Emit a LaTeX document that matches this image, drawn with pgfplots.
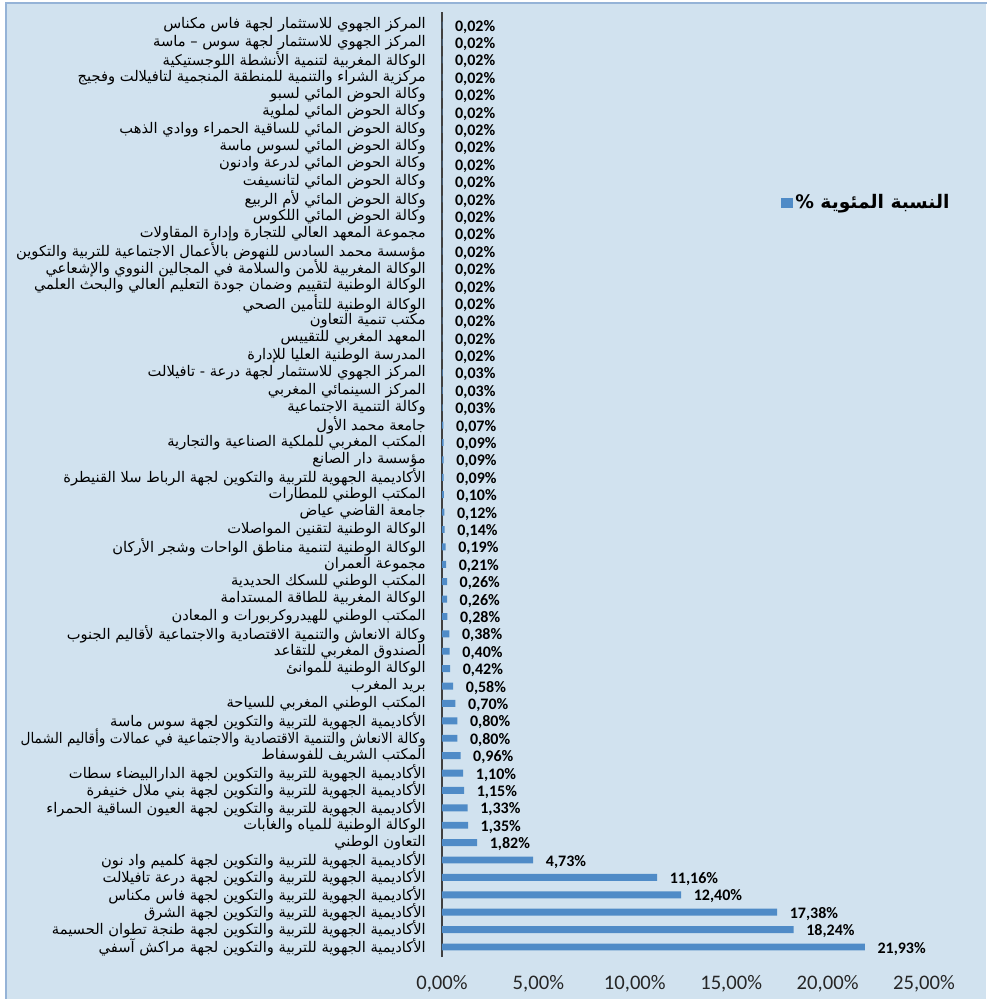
\documentclass[border=0pt]{standalone}
\usepackage{pgfplots}
\pgfplotsset{compat=1.18}
\usepackage{pgfplotstable}
\usepackage{fontspec}
\setmainfont{Carlito}
\newfontfamily\arabicfont[Script=Arabic]{DejaVu Sans}
\TeXXeTstate=1
\definecolor{bgblue}{RGB}{209,226,239}
\definecolor{frameblue}{RGB}{149,179,215}
\definecolor{barblue}{RGB}{79,139,199}
\definecolor{axisgray}{RGB}{64,64,64}

% rows from the bottom (pos 0) to the top (pos 53), values in %
\pgfplotstableread{
pos val
0 21.93
1 18.24
2 17.38
3 12.40
4 11.16
5 4.73
6 1.82
7 1.35
8 1.33
9 1.15
10 1.10
11 0.96
12 0.80
13 0.80
14 0.70
15 0.58
16 0.42
17 0.40
18 0.38
19 0.28
20 0.26
21 0.26
22 0.21
23 0.19
24 0.14
25 0.12
26 0.10
27 0.09
28 0.09
29 0.09
30 0.07
31 0.03
32 0.03
33 0.03
34 0.02
35 0.02
36 0.02
37 0.02
38 0.02
39 0.02
40 0.02
41 0.02
42 0.02
43 0.02
44 0.02
45 0.02
46 0.02
47 0.02
48 0.02
49 0.02
50 0.02
51 0.02
52 0.02
53 0.02
}\shares

\begin{document}
\begin{tikzpicture}[x=1pt,y=1pt]
\useasboundingbox (0,0) rectangle (739.5,749.25);
\fill[white] (0,0) rectangle (739.5,749.25);
\fill[bgblue] (4.5,0) rectangle (739.5,746.9);
\draw[frameblue, line width=1.5] (4.5,-2) -- (4.5,746.9) -- (745,746.9);
\begin{axis}[
  at={(331.5pt,31.5pt)}, anchor=south west,
  scale only axis, width=361.5pt, height=708.75pt,
  xbar, bar width=5.2pt, bar shift=0pt,
  xmin=0, xmax=25, ymin=-0.575, ymax=53.75,
  xtick={0,5,...,25},
  ytick={0,...,53},
  axis x line*=bottom, axis y line*=left,
  x axis line style={draw=none},
  y axis line style={-, line width=2.2pt, draw=axisgray},
  major tick length=0pt,
  xticklabel={\pgfmathprintnumber[fixed,fixed zerofill,precision=2,use comma,assume math mode=true]{\tick}\%},
  xticklabel style={font=\fontsize{15.5}{16}\selectfont, yshift=-10pt, text=black!85},
  yticklabel style={font=\fontsize{11}{12}\selectfont\arabicfont, anchor=east, inner sep=0pt, xshift=-12pt},
  yticklabels={
    {\beginR الأكاديمية الجهوية للتربية والتكوين لجهة مراكش آسفي\endR},
    {\beginR الأكاديمية الجهوية للتربية والتكوين لجهة طنجة تطوان الحسيمة\endR},
    {\beginR الأكاديمية الجهوية للتربية والتكوين لجهة الشرق\endR},
    {\beginR الأكاديمية الجهوية للتربية والتكوين لجهة فاس مكناس\endR},
    {\beginR الأكاديمية الجهوية للتربية والتكوين لجهة درعة تافيلالت\endR},
    {\beginR الأكاديمية الجهوية للتربية والتكوين لجهة  كلميم واد نون\endR},
    {\beginR التعاون الوطني\endR},
    {\beginR الوكالة الوطنية للمياه والغابات\endR},
    {\beginR الأكاديمية الجهوية للتربية والتكوين لجهة العيون الساقية الحمراء\endR},
    {\beginR الأكاديمية الجهوية للتربية والتكوين لجهة بني ملال خنيفرة\endR},
    {\beginR الأكاديمية الجهوية للتربية والتكوين لجهة الدارالبيضاء سطات\endR},
    {\beginR المكتب الشريف للفوسفاط\endR},
    {\scalebox{0.93}[1]{\beginR وكالة الانعاش والتنمية الاقتصادية والاجتماعية في عمالات وأقاليم الشمال\endR}},
    {\beginR الأكاديمية الجهوية للتربية والتكوين لجهة سوس ماسة\endR},
    {\beginR المكتب الوطني المغربي للسياحة\endR},
    {\beginR بريد المغرب\endR},
    {\beginR الوكالة الوطنية للموانئ\endR},
    {\beginR الصندوق المغربي للتقاعد\endR},
    {\beginR وكالة الانعاش والتنمية الاقتصادية والاجتماعية لأقاليم الجنوب\endR},
    {\beginR المكتب الوطني للهيدروكربورات و المعادن\endR},
    {\beginR الوكالة المغربية للطاقة المستدامة\endR},
    {\beginR المكتب الوطني للسكك الحديدية\endR},
    {\beginR مجموعة العمران\endR},
    {\beginR الوكالة الوطنية لتنمية مناطق الواحات وشجر الأركان\endR},
    {\beginR الوكالة الوطنية لتقنين المواصلات\endR},
    {\beginR جامعة القاضي عياض\endR},
    {\beginR المكتب الوطني للمطارات\endR},
    {\beginR الأكاديمية الجهوية للتربية والتكوين لجهة الرباط سلا القنيطرة\endR},
    {\beginR مؤسسة دار الصانع\endR},
    {\beginR المكتب المغربي للملكية الصناعية والتجارية\endR},
    {\beginR جامعة محمد الأول\endR},
    {\beginR وكالة التنمية الاجتماعية\endR},
    {\beginR المركز السينمائي المغربي\endR},
    {\beginR المركز الجهوي للاستثمار لجهة درعة - تافيلالت\endR},
    {\beginR المدرسة الوطنية العليا للإدارة\endR},
    {\beginR المعهد المغربي للتقييس\endR},
    {\beginR مكتب تنمية التعاون\endR},
    {\beginR الوكالة الوطنية للتأمين الصحي\endR},
    {\beginR الوكالة الوطنية لتقييم وضمان جودة التعليم العالي والبحث العلمي\endR},
    {\beginR الوكالة المغربية للأمن والسلامة في المجالين النووي والإشعاعي\endR},
    {\beginR مؤسسة محمد السادس للنهوض بالأعمال الاجتماعية للتربية والتكوين\endR},
    {\beginR مجموعة المعهد العالي للتجارة وإدارة المقاولات\endR},
    {\beginR وكالة الحوض المائي اللكوس\endR},
    {\beginR وكالة الحوض المائي لأم الربيع\endR},
    {\beginR وكالة الحوض المائي لتانسيفت\endR},
    {\beginR وكالة الحوض المائي لدرعة وادنون\endR},
    {\beginR وكالة الحوض المائي لسوس ماسة\endR},
    {\beginR وكالة الحوض المائي للساقية الحمراء ووادي الذهب\endR},
    {\beginR وكالة الحوض المائي لملوية\endR},
    {\beginR وكالة الحوض المائي لسبو\endR},
    {\beginR مركزية الشراء والتنمية للمنطقة المنجمية لتافيلالت وفجيج\endR},
    {\beginR الوكالة المغربية لتنمية الأنشطة اللوجستيكية\endR},
    {\beginR المركز الجهوي للاستثمار لجهة سوس – ماسة\endR},
    {\beginR المركز الجهوي للاستثمار لجهة فاس مكناس\endR}
  },
  point meta=x,
  nodes near coords={\pgfmathprintnumber[fixed,fixed zerofill,precision=2,use comma,assume math mode=true]{\pgfplotspointmeta}\%},
  nodes near coords align={horizontal},
  every node near coord/.append style={font=\fontsize{12}{12}\selectfont\bfseries, anchor=west, xshift=6pt, yshift=-1.2pt, text=black},
  legend style={at={(0.695,0.798)}, anchor=west, draw=none, fill=none,
    font=\fontsize{14}{15}\selectfont\arabicfont\bfseries},
  legend image code/.code={\fill[barblue] (0pt,-4pt) rectangle (8.5pt,4pt);},
]
\addplot[fill=barblue, draw=none] table[x=val, y=pos] {\shares};
\addlegendentry{\beginR النسبة المئوية \%\endR}
\end{axis}
\end{tikzpicture}
\end{document}
